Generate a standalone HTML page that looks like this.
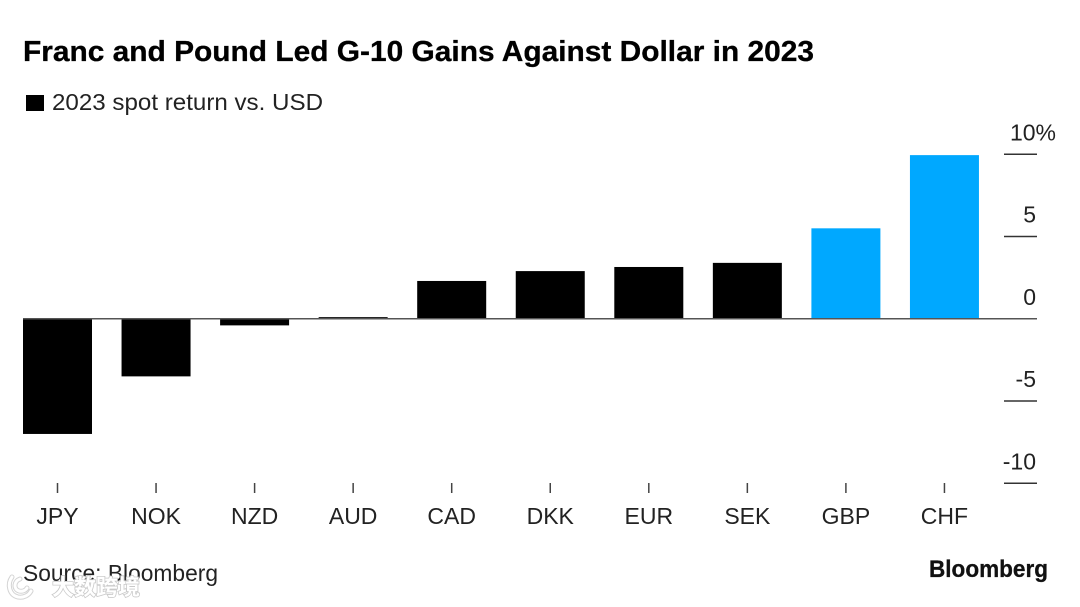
<!DOCTYPE html>
<html lang="en">
<head>
<meta charset="utf-8">
<title>Franc and Pound Led G-10 Gains Against Dollar in 2023</title>
<style>
html,body{margin:0;padding:0;background:#fff;width:1080px;height:607px;overflow:hidden}
#stage{position:relative;width:1080px;height:607px;background:#fff;font-family:"Liberation Sans",sans-serif;color:#111}
#stage svg{position:absolute;left:0;top:0}
text{font-family:"Liberation Sans",sans-serif}
</style>
</head>
<body>
<div id="stage">
<svg id="chart" width="1080" height="607" viewBox="0 0 1080 607">
  <text x="23" y="61" font-size="28.5" font-weight="700" fill="#000" stroke="#000" stroke-width="0.3" textLength="791" lengthAdjust="spacingAndGlyphs">Franc and Pound Led G-10 Gains Against Dollar in 2023</text>
  <rect x="26" y="95" width="18" height="16" fill="#000"></rect>
  <text x="52" y="110" font-size="23" fill="#222" textLength="271" lengthAdjust="spacingAndGlyphs">2023 spot return vs. USD</text>
  <g id="y-axis"></g>
  <g id="bars"></g>
  <line id="zero-line" x1="23" x2="1037" stroke="#555" stroke-width="1.5"></line>
  <g id="x-axis"></g>
  <text x="23" y="581" font-size="23" fill="#222" textLength="195" lengthAdjust="spacingAndGlyphs">Source: Bloomberg</text>
  <text x="929" y="577" font-size="24" font-weight="700" fill="#111" stroke="#111" stroke-width="0.3" textLength="119" lengthAdjust="spacingAndGlyphs">Bloomberg</text>
  <g>
    <path d="M12 577 C7 584 9 595 18 597 C24 598 29 595 31 591 M20 579 C14 581 13 589 19 591 C23 592 26 590 27 588" fill="none" stroke="#d4d4d4" stroke-width="5" stroke-linecap="round"></path>
    <path d="M12 577 C7 584 9 595 18 597 C24 598 29 595 31 591 M20 579 C14 581 13 589 19 591 C23 592 26 590 27 588" fill="none" stroke="#fff" stroke-width="3" stroke-linecap="round"></path>
    <text x="52" y="595" font-size="22" font-weight="700" fill="#fff" stroke="#c9c9c9" stroke-width="1.6" paint-order="stroke" style="font-family:'Liberation Sans','Noto Sans CJK SC',sans-serif">大数跨境</text>
  </g>
</svg>
</div>
<script>
const categories = ["JPY", "NOK", "NZD", "AUD", "CAD", "DKK", "EUR", "SEK", "GBP", "CHF"];
const spotReturns = [-7.0, -3.5, -0.4, 0.1, 2.3, 2.9, 3.15, 3.4, 5.5, 9.95];
const highlighted = ["GBP", "CHF"];
const yTickValues = [10, 5, 0, -5, -10];
const yTickLabels = ["10%", "5", "0", "-5", "-10"];

const NS = "http://www.w3.org/2000/svg";
const yScale = function (v) { return 318.8 - v * 16.45; };
const xCenter = function (i) { return 57.5 + i * 98.55; };
const barWidth = 69;

function make(tag, attrs, text) {
  const el = document.createElementNS(NS, tag);
  Object.keys(attrs).forEach(function (k) { el.setAttribute(k, attrs[k]); });
  if (text !== undefined) el.textContent = text;
  return el;
}

const zero = document.getElementById("zero-line");
zero.setAttribute("y1", yScale(0));
zero.setAttribute("y2", yScale(0));

const barsGroup = document.getElementById("bars");
const xGroup = document.getElementById("x-axis");
categories.forEach(function (cat, i) {
  const v = spotReturns[i];
  const top = Math.min(yScale(v), yScale(0));
  const h = Math.abs(yScale(v) - yScale(0));
  const bar = make("rect", {
    x: xCenter(i) - barWidth / 2,
    y: top,
    width: barWidth,
    height: h,
    fill: highlighted.indexOf(cat) >= 0 ? "#00a8ff" : "#000"
  });
  
  
  barsGroup.appendChild(bar);

  const tick = make("line", {
    x1: xCenter(i), x2: xCenter(i), y1: 483, y2: 493, stroke: "#444", "stroke-width": 1.5
  });
  
  
  xGroup.appendChild(tick);

  const label = make("text", {
    x: xCenter(i), y: 524, "font-size": 23, fill: "#222", "text-anchor": "middle"
  }, cat);
  
  
  xGroup.appendChild(label);
});

const yGroup = document.getElementById("y-axis");
yTickValues.forEach(function (v, i) {
  const y = yScale(v);
  const tick = make("line", {
    x1: 1004, x2: 1037, y1: y, y2: y, stroke: "#333", "stroke-width": 1.5
  });
  
  
  yGroup.appendChild(tick);

  const isTop = i === 0;
  const label = make("text", {
    x: isTop ? 1056 : 1036,
    y: y - 14,
    "font-size": 23,
    fill: "#222",
    "text-anchor": "end"
  }, yTickLabels[i]);
  
  
  yGroup.appendChild(label);
});
</script>
</body>
</html>
